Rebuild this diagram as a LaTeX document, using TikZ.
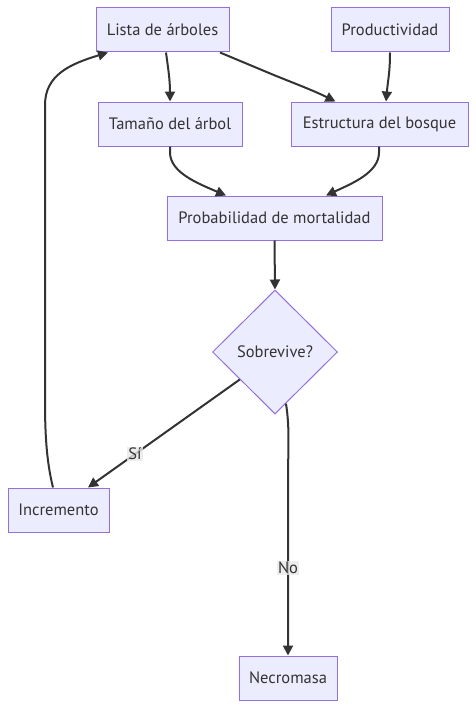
\documentclass[tikz,border=0pt]{standalone}
\usepackage{fontspec}
\setmainfont{PT Sans}
\usetikzlibrary{shapes.geometric,arrows.meta}
\definecolor{mmfill}{HTML}{ECECFF}
\definecolor{mmborder}{HTML}{9370DB}
\definecolor{mmline}{HTML}{333333}
\definecolor{mmtext}{HTML}{333333}
\definecolor{mmlabel}{HTML}{E8E8E8}
\begin{document}
\begin{tikzpicture}[x=1pt,y=-1pt,
  box/.style={draw=mmborder, fill=mmfill, line width=1pt, minimum height=44pt, inner sep=0pt,
    font=\fontsize{16.5}{19}\selectfont, text=mmtext},
  decision/.style={diamond, shape aspect=1, draw=mmborder, fill=mmfill, line width=1pt,
    minimum width=125pt, minimum height=124pt, inner sep=0pt,
    font=\fontsize{16.5}{19}\selectfont, text=mmtext},
  edge/.style={draw=mmline, line width=2pt, -{Triangle[length=10pt,width=10pt]}},
  elabel/.style={fill=mmlabel, fill opacity=0.8, text opacity=1, text=mmtext, inner sep=1pt,
    font=\fontsize{16.5}{19}\selectfont}]
\useasboundingbox (0,0) rectangle (476,709);
\node[box, minimum width=133pt] (lista) at (162.5,30) {Lista de árboles};
\node[box, minimum width=118pt] (prod) at (390,30) {Productividad};
\node[box, minimum width=144pt] (tam) at (170,124) {Tamaño del árbol};
\node[box, minimum width=177pt] (est) at (379.5,124) {Estructura del bosque};
\node[box, minimum width=215pt] (prob) at (274.5,218) {Probabilidad de mortalidad};
\node[decision] (sob) at (275,352) {Sobrevive?};
\node[box, minimum width=101pt] (inc) at (58.5,510) {Incremento};
\node[box, minimum width=98pt] (nec) at (288,678) {Necromasa};

\draw[edge] ([xshift=3.5pt]lista.south) .. controls +(2,15) and +(0,-22) .. ([xshift=0pt]tam.north);
\draw[edge] ([xshift=57.5pt]lista.south) -- +(55,23) .. controls +(25,10) and +(-20,-10) .. ([xshift=-44pt]est.north);
\draw[edge] (prod.south) .. controls +(0,20) and +(2,-22) .. ([xshift=6.5pt]est.north);
\draw[edge] (tam.south) -- +(0,6) .. controls +(0,20) and +(-28,-12) .. ([xshift=-48.5pt]prob.north);
\draw[edge] ([xshift=-0.5pt]est.south) -- +(0,6) .. controls +(0,20) and +(26,-12) .. ([xshift=51.5pt]prob.north);
\draw[edge] (prob.south) -- (sob.north);
\draw[edge] (sob.-142) -- node[elabel, pos=0.69] {Sí} ([xshift=29.5pt]inc.north);
\draw[edge] (sob.-78) .. controls +(4,25) and +(0,-30) .. ([xshift=0pt]nec.north |- 0,480) -- node[elabel, pos=0.5] {No} (nec.north);
\draw[edge] ([xshift=-5.5pt]inc.north) .. controls +(-7,-28) and +(0,30) .. (45,400) -- (45,105) .. controls (45,75) and (70,64) .. ([xshift=-54.5pt]lista.south);
\end{tikzpicture}
\end{document}
